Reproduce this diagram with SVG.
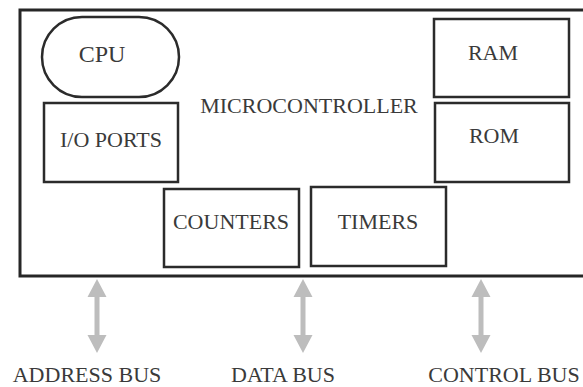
<svg xmlns="http://www.w3.org/2000/svg" width="583" height="387" viewBox="0 0 583 387">
  <style>
    .box { fill: #fff; stroke: #2b2b2b; stroke-width: 2.5; }
    .frame { fill: #fff; stroke: #262626; stroke-width: 3; }
    .lbl { font-family: "Liberation Serif", "Times New Roman", serif; font-size: 22px; fill: #3a3a3a; text-anchor: middle; }
    .bus { fill: #bdbdbd; }
  </style>
  <defs>
    <!-- double-headed bus arrow, tips at y=0 and y=74 -->
    <path id="dbl" class="bus" d="M0 0 L9.5 18 L2.5 18 L2.5 56 L9.5 56 L0 74 L-9.5 56 L-2.5 56 L-2.5 18 L-9.5 18 Z"/>
  </defs>
  <rect width="583" height="387" fill="#fff"/>

  <g id="microcontroller">
    <rect class="frame" x="20" y="10" width="580" height="266"/>
    <text class="lbl" x="309" y="113">MICROCONTROLLER</text>
  </g>

  <g id="cpu">
    <rect class="box" x="42" y="17" width="137" height="80" rx="40" ry="40"/>
    <text class="lbl" x="102" y="62" style="font-size:24px">CPU</text>
  </g>

  <g id="io-ports">
    <rect class="box" x="44" y="103" width="134" height="79"/>
    <text class="lbl" x="111" y="147">I/O PORTS</text>
  </g>

  <g id="ram">
    <rect class="box" x="434" y="19" width="135" height="78"/>
    <text class="lbl" x="493" y="60">RAM</text>
  </g>

  <g id="rom">
    <rect class="box" x="435" y="103" width="134" height="79"/>
    <text class="lbl" x="494" y="143">ROM</text>
  </g>

  <g id="counters">
    <rect class="box" x="164" y="189" width="135" height="78"/>
    <text class="lbl" x="231" y="229">COUNTERS</text>
  </g>

  <g id="timers">
    <rect class="box" x="311" y="187" width="135" height="79"/>
    <text class="lbl" x="378" y="229">TIMERS</text>
  </g>

  <g id="connectors">
    <use href="#dbl" x="97" y="279"/>
    <use href="#dbl" x="303" y="279"/>
    <use href="#dbl" x="481" y="279"/>
  </g>

  <g id="address-bus">
    <text class="lbl" x="87" y="382">ADDRESS BUS</text>
  </g>
  <g id="data-bus">
    <text class="lbl" x="283" y="382">DATA BUS</text>
  </g>
  <g id="control-bus">
    <text class="lbl" x="504" y="382">CONTROL BUS</text>
  </g>
</svg>
